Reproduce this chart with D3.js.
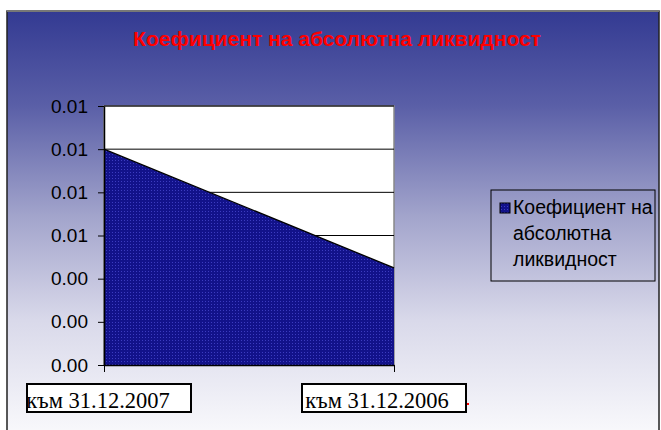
<!DOCTYPE html>
<html>
<head>
<meta charset="utf-8">
<script src="https://cdn.jsdelivr.net/npm/d3@7"></script>
<style>
  body { margin: 0; background: #fff; }
  svg { display: block; }
</style>
</head>
<body>
<svg id="chart" width="661" height="430"></svg>
<script>
// chart data
const categories = ["към 31.12.2007", "към 31.12.2006"];
const values = [0.0100, 0.0045];
const seriesName = "Коефициент на абсолютна ликвидност";
const legendLines = ["Коефициент на", "абсолютна", "ликвидност"];
const yTicks = [0, 0.002, 0.004, 0.006, 0.008, 0.010, 0.012];

const svg = d3.select("#chart");
const defs = svg.append("defs");

// background gradient
const grad = defs.append("linearGradient")
    .attr("id", "bg")
    .attr("x1", 0).attr("y1", 0).attr("x2", 0).attr("y2", 1);
grad.append("stop").attr("offset", "0").attr("stop-color", "#333a92");
grad.append("stop").attr("offset", "0.22").attr("stop-color", "#5a5fa7");
grad.append("stop").attr("offset", "0.48").attr("stop-color", "#a3a5cc");
grad.append("stop").attr("offset", "0.72").attr("stop-color", "#d9d9ea");
grad.append("stop").attr("offset", "1").attr("stop-color", "#fbfbfd");

// dotted fill for area
const pat = defs.append("pattern")
    .attr("id", "dots")
    .attr("width", 3).attr("height", 3)
    .attr("patternUnits", "userSpaceOnUse");
pat.append("rect").attr("width", 3).attr("height", 3).attr("fill", "#12128a");
pat.append("rect").attr("x", 1).attr("y", 1).attr("width", 1).attr("height", 1).attr("fill", "#3c3cc0");

// frame
svg.append("rect")
    .attr("x", 7).attr("y", 11)
    .attr("width", 652).attr("height", 430)
    .attr("fill", "url(#bg)")
    .attr("stroke", "#222")
    .attr("stroke-width", 1.5);
svg.append("line")
    .attr("x1", 7).attr("x2", 659).attr("y1", 11).attr("y2", 11)
    .attr("stroke", "#777").attr("stroke-width", 2);

// title
svg.append("text")
    .attr("x", 337).attr("y", 46)
    .attr("text-anchor", "middle")
    .attr("fill", "#ff0000")
    .style("font-family", "Arial, 'Liberation Sans', sans-serif")
    .style("font-weight", "bold")
    .style("font-size", "21px")
    .text(seriesName);

const plot = { left: 104, right: 394, top: 106, bottom: 365 };

const x = d3.scalePoint()
    .domain(categories)
    .range([plot.left, plot.right]);

const y = d3.scaleLinear()
    .domain([0, 0.012])
    .range([plot.bottom, plot.top]);

// plot area
svg.append("rect")
    .attr("x", plot.left).attr("y", plot.top)
    .attr("width", plot.right - plot.left)
    .attr("height", plot.bottom - plot.top)
    .attr("fill", "#fff")
    .attr("stroke", "#888")
    .attr("stroke-width", 1.5);

// gridlines
svg.append("g")
    .selectAll("line")
    .data(yTicks)
    .join("line")
    .attr("x1", plot.left).attr("x2", plot.right)
    .attr("y1", d => y(d)).attr("y2", d => y(d))
    .attr("stroke", "#000")
    .attr("stroke-width", 1);

// area
const area = d3.area()
    .x((d, i) => x(categories[i]))
    .y0(y(0))
    .y1(d => y(d));

svg.append("path")
    .datum(values)
    .attr("d", area)
    .attr("fill", "url(#dots)");

svg.append("path")
    .datum(values)
    .attr("d", d3.line().x((d, i) => x(categories[i])).y(d => y(d)))
    .attr("fill", "none")
    .attr("stroke", "#000")
    .attr("stroke-width", 1.3);

// y axis
const yAxis = svg.append("g")
    .attr("transform", `translate(${plot.left},0)`)
    .call(d3.axisLeft(y).tickValues(yTicks).tickFormat(d3.format(".2f")).tickSize(6).tickSizeOuter(0).tickPadding(10));
yAxis.select(".domain").attr("stroke", "#000").attr("stroke-width", 1.5);
yAxis.selectAll(".tick line").attr("stroke", "#000");
yAxis.selectAll("text")
    .attr("fill", "#000")
    .style("font-family", "Arial, 'Liberation Sans', sans-serif")
    .style("font-size", "19px");

// x axis
const xAxis = svg.append("g")
    .attr("transform", `translate(0,${plot.bottom})`)
    .call(d3.axisBottom(x).tickSize(7).tickSizeOuter(0).tickFormat(""));
xAxis.select(".domain").attr("stroke", "#000").attr("stroke-width", 1.5);
xAxis.selectAll(".tick line").attr("stroke", "#000");

// category label boxes
const labelShift = [5, -10];
const labels = svg.append("g")
    .selectAll("g")
    .data(categories)
    .join("g")
    .attr("transform", (d, i) => `translate(${x(d) + labelShift[i]},398)`);
labels.append("rect")
    .attr("x", -82).attr("y", -14)
    .attr("width", 164).attr("height", 28)
    .attr("fill", "#fff")
    .attr("stroke", "#000")
    .attr("stroke-width", 2);
labels.append("text")
    .attr("x", (d, i) => i === 0 ? -11 : -7)
    .attr("y", 10)
    .attr("text-anchor", "middle")
    .attr("fill", "#000")
    .style("font-family", "'Liberation Serif', 'Times New Roman', serif")
    .style("font-size", "22.5px")
    .text(d => d);

svg.append("rect")
    .attr("x", 467).attr("y", 403)
    .attr("width", 2).attr("height", 2)
    .attr("fill", "#ff0000");

// legend
const legend = svg.append("g").attr("transform", "translate(491,190)");
legend.append("rect")
    .attr("width", 164).attr("height", 91)
    .attr("fill", "none")
    .attr("stroke", "#000")
    .attr("stroke-width", 1);
legend.append("rect")
    .attr("x", 9).attr("y", 13)
    .attr("width", 10).attr("height", 10)
    .attr("fill", "url(#dots)")
    .attr("stroke", "#000")
    .attr("stroke-width", 1);
legend.append("g")
    .selectAll("text")
    .data(legendLines)
    .join("text")
    .attr("x", 22)
    .attr("y", (d, i) => 24 + i * 26)
    .attr("fill", "#000")
    .style("font-family", "Arial, 'Liberation Sans', sans-serif")
    .style("font-size", "19.5px")
    .text(d => d);
</script>
</body>
</html>
